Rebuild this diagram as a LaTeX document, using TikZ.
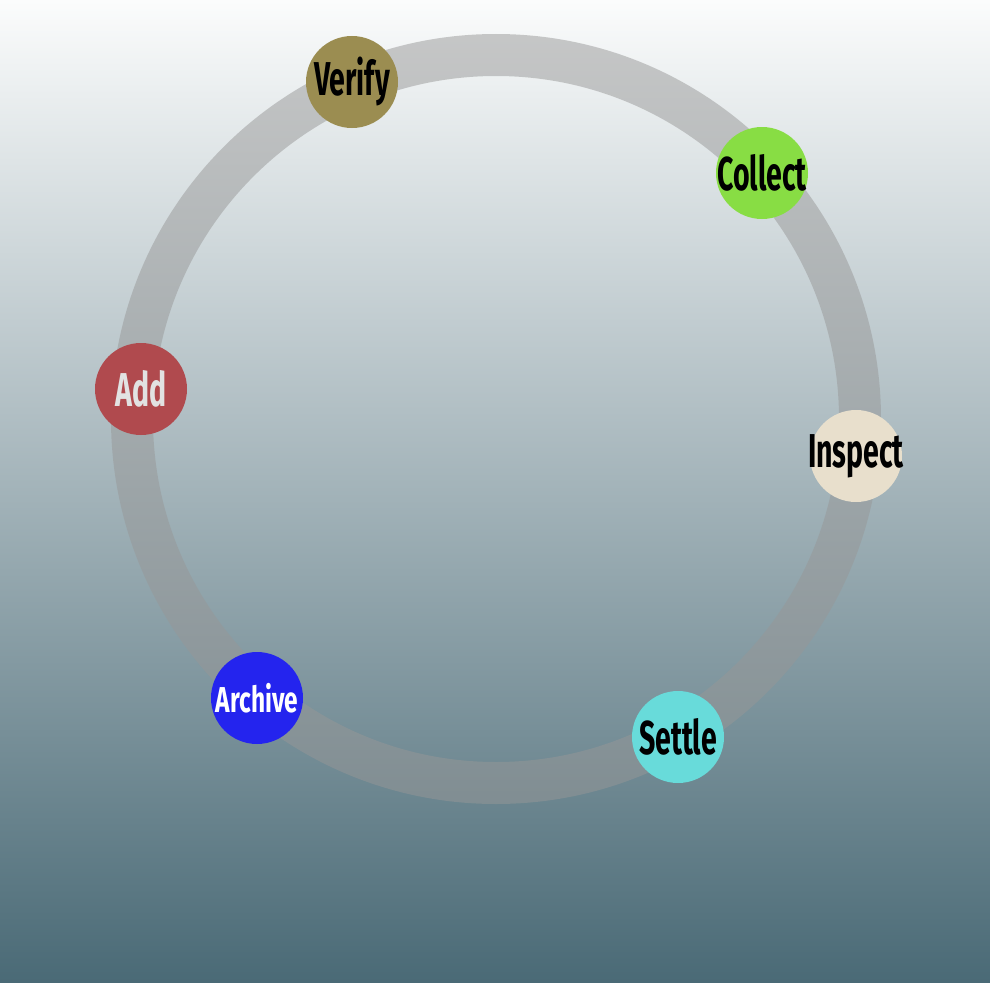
\documentclass[tikz,border=0pt]{standalone}
\usepackage{fontspec}
\newfontfamily\labfont[FakeStretch=0.6]{Fira Sans}
\newfontfamily\smalllabfont[FakeStretch=0.68]{Fira Sans}
\definecolor{bgtop}{HTML}{FBFCFC}
\definecolor{bgbot}{HTML}{4A6A76}
\definecolor{ringc}{HTML}{979797}
\definecolor{cverify}{HTML}{9B8D51}
\definecolor{ccollect}{HTML}{88DD44}
\definecolor{cinspect}{HTML}{E8DFCC}
\definecolor{csettle}{HTML}{68DBDA}
\definecolor{carchive}{HTML}{2424EE}
\definecolor{cadd}{HTML}{B04A4E}
\definecolor{addtext}{HTML}{E2E2E2}
\begin{document}
\begin{tikzpicture}[x=1pt,y=-1pt,
  stepnode/.style={circle,minimum size=92pt,inner sep=0pt,draw=none},
  labtext/.style={font=\labfont\bfseries\fontsize{47.5}{47.5}\selectfont,inner sep=0pt,text=black},
  smalltext/.style={font=\smalllabfont\bfseries\fontsize{36}{36}\selectfont,inner sep=0pt,text=white}]
\useasboundingbox (0,0) rectangle (990,982);
\shade[top color=bgtop,bottom color=bgbot] (0,0) rectangle (990,982);
\coordinate (c) at (496,419);
\draw[ringc,opacity=0.5,line width=42pt] (c) circle[radius=364pt];
\node[stepnode,fill=cverify,label={[labtext]center:Verify}] (verify) at (352,82) {};
\node[stepnode,fill=ccollect,label={[labtext]center:Collect}] (collect) at (762,173) {};
\node[stepnode,fill=cinspect,label={[labtext]center:Inspect}] (inspect) at (856,456) {};
\node[stepnode,fill=csettle,label={[labtext]center:Settle}] (settle) at (678,737) {};
\node[stepnode,fill=carchive,label={[smalltext]center:Archive}] (archive) at (257,698) {};
\node[stepnode,fill=cadd,label={[labtext,text=addtext]center:Add}] (add) at (141,389) {};
\end{tikzpicture}
\end{document}
